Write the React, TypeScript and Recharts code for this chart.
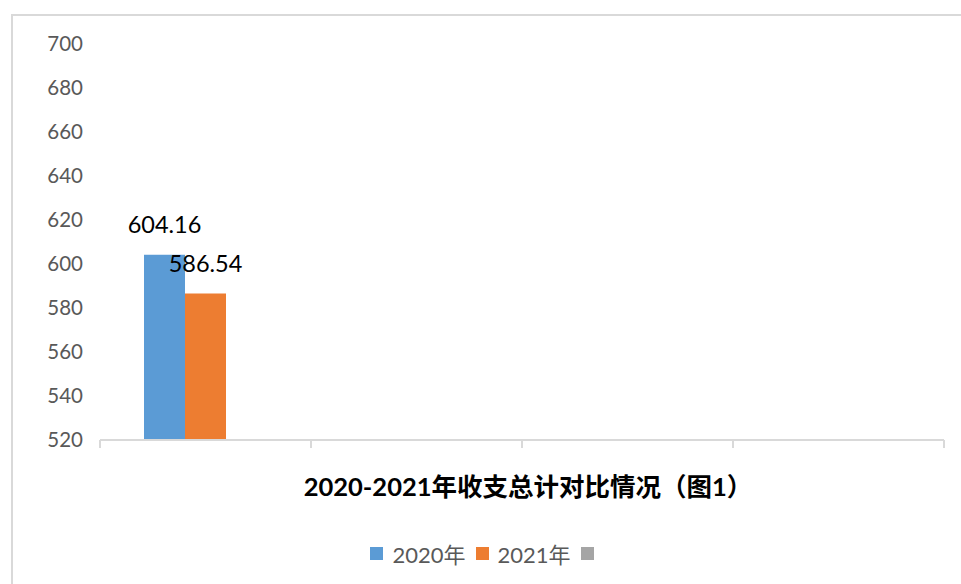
import React from 'react';
import { BarChart, Bar, XAxis, YAxis, Legend, LabelList } from 'recharts';

// four category slots, only the first one carries data
const categories = ['收支总计', '类别2', '类别3', '类别4'];
const seriesNames = ['2020年', '2021年', ''];
const values2020 = [604.16, null, null, null];
const values2021 = [586.54, null, null, null];
const values3 = [null, null, null, null];
const yTicks = [520, 540, 560, 580, 600, 620, 640, 660, 680, 700];
const chartTitle = '2020-2021年收支总计对比情况（图1）';

const colors = ['#5b9bd5', '#ed7d31', '#a5a5a5'];
const FONT = "Lato, 'Noto Sans CJK SC', sans-serif";

const data = categories.map((name, i) => ({
  name,
  s2020: values2020[i],
  s2021: values2021[i],
  s3: values3[i],
}));

// tick marks sit on the category borders, not the centers
const BorderTick = (props: any) => {
  const { x, y, index, payload } = props;
  const half = payload?.offset ?? 0;
  return (
    <g>
      <line x1={x - half} y1={y - 8} x2={x - half} y2={y} stroke="#d9d9d9" strokeWidth={2} />
      {index === categories.length - 1 && (
        <line x1={x + half} y1={y - 8} x2={x + half} y2={y} stroke="#d9d9d9" strokeWidth={2} />
      )}
    </g>
  );
};

const renderValue = (props: any) => {
  const { x, y, width, value } = props;
  if (value == null) return null;
  return (
    <text x={x + width / 2} y={y - 22} textAnchor="middle" fontSize={23.5} fill="#000" fontFamily={FONT}>
      {value}
    </text>
  );
};

const TitleLabel = (props: any) => {
  const vb = props.viewBox || {};
  return (
    <text
      x={vb.x + vb.width / 2 + 6}
      y={vb.y + 56}
      textAnchor="middle"
      fontSize={25.5}
      fontWeight="bold"
      fill="#000"
      fontFamily={FONT}
    >
      {chartTitle}
    </text>
  );
};

const LegendContent = () => (
  <div style={{ display: 'flex', justifyContent: 'center', alignItems: 'center', height: 30, paddingLeft: 30, fontFamily: FONT }}>
    {seriesNames.map((n, i) => (
      <div key={i} style={{ display: 'flex', alignItems: 'center', marginRight: 10 }}>
        <span style={{ width: 13, height: 13, background: colors[i], display: 'inline-block' }} />
        {n && <span style={{ marginLeft: 9, fontSize: 22, color: '#595959' }}>{n}</span>}
      </div>
    ))}
  </div>
);

export default function App() {
  return (
    <div style={{ position: 'absolute', left: 0, top: 0, width: 961, height: 584, background: '#fff', overflow: 'hidden' }}>
      <div
        style={{
          position: 'absolute',
          left: 11,
          top: 14,
          width: 980,
          height: 600,
          borderLeft: '2px solid #d9d9d9',
          borderTop: '2px solid #d9d9d9',
        }}
      />
      <div style={{ position: 'absolute', left: 0, top: 0 }}>
        <BarChart
          width={961}
          height={584}
          data={data}
          margin={{ top: 44, right: 17, bottom: 16, left: 0 }}
          barCategoryGap={44}
          barGap={0}
        >
          <XAxis
            dataKey="name"
            stroke="#d9d9d9"
            strokeWidth={2}
            tickLine={false}
            tick={<BorderTick />}
            height={98}
            interval={0}
            label={<TitleLabel />}
          />
          <YAxis
            domain={[520, 700]}
            ticks={yTicks}
            axisLine={false}
            tickLine={false}
            width={100}
            tickMargin={11}
            tick={{ fill: '#595959', fontSize: 20.5, fontFamily: FONT }}
          />
          <Legend verticalAlign="bottom" height={30} content={<LegendContent />} />
          <Bar dataKey="s2020" name={seriesNames[0]} fill={colors[0]} isAnimationActive={false}>
            <LabelList dataKey="s2020" content={renderValue} />
          </Bar>
          <Bar dataKey="s2021" name={seriesNames[1]} fill={colors[1]} isAnimationActive={false}>
            <LabelList dataKey="s2021" content={renderValue} />
          </Bar>
          <Bar dataKey="s3" name={seriesNames[2]} fill={colors[2]} isAnimationActive={false} />
        </BarChart>
      </div>
    </div>
  );
}
